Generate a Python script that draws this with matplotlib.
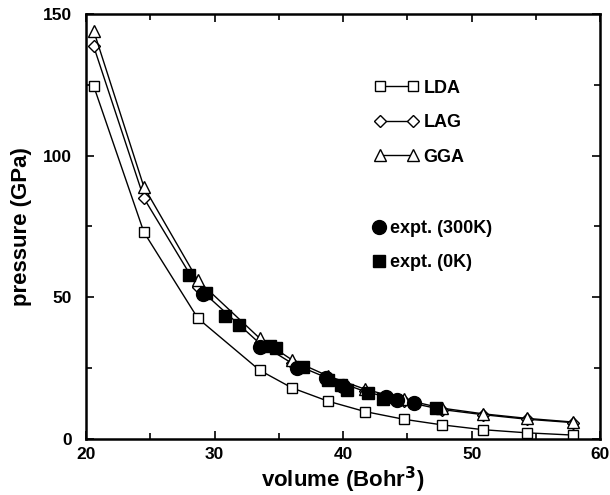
import matplotlib
matplotlib.use('Agg')
from matplotlib import pyplot as plt
from matplotlib.ticker import MultipleLocator

plt.rcParams['font.family'] = ['Liberation Sans', 'DejaVu Sans']
plt.rcParams['font.weight'] = 'bold'

# ----- data -----
vol_calc = [20.6, 24.5, 28.7, 33.5, 36.0, 38.8, 41.7, 44.7, 47.7, 50.9, 54.3, 57.9]
p_lda = [124.5, 73.0, 42.6, 24.3, 18.1, 13.4, 9.7, 7.0, 5.0, 3.3, 2.2, 1.4]
p_lag = [138.5, 85.0, 53.5, 33.8, 26.8, 21.5, 16.8, 13.3, 10.4, 8.6, 7.0, 5.8]
p_gga = [144.0, 89.0, 56.0, 35.6, 28.0, 22.3, 17.6, 14.0, 10.9, 8.9, 7.3, 6.0]

vol_300k = [29.1, 33.5, 36.4, 38.7, 40.0, 43.3, 44.2, 45.5]
p_300k = [51.0, 32.6, 25.0, 21.5, 18.7, 14.9, 13.9, 12.8]

vol_0k = [28.0, 29.3, 30.8, 31.9, 34.3, 34.8, 36.9, 38.8, 39.8, 40.3, 41.9, 43.1, 47.2]
p_0k = [57.9, 51.5, 43.4, 40.3, 32.8, 32.2, 25.5, 20.8, 19.0, 17.3, 16.2, 14.0, 10.8]

fig = plt.figure(figsize=(6.1, 4.95), dpi=100)
ax = fig.add_axes([0.141, 0.113, 0.843, 0.859])

# theory curves
l1, = ax.plot(vol_calc, p_lda, 'k-', lw=1.0, marker='s', ms=7.5, mfc='white', mec='black', mew=1.0, label='LDA')
l2, = ax.plot(vol_calc, p_lag, 'k-', lw=1.0, marker='D', ms=6.5, mfc='white', mec='black', mew=1.0, label='LAG')
l3, = ax.plot(vol_calc, p_gga, 'k-', lw=1.0, marker='^', ms=9.0, mfc='white', mec='black', mew=1.0, label='GGA')

# experiments
e1, = ax.plot(vol_300k, p_300k, 'o', color='black', ms=10, label='expt. (300K)')
e2, = ax.plot(vol_0k, p_0k, 's', color='black', ms=8.5, label='expt. (0K)')

ax.set_xlim(20, 60)
ax.set_ylim(0, 150)
ax.xaxis.set_major_locator(MultipleLocator(10))
ax.xaxis.set_minor_locator(MultipleLocator(5))
ax.yaxis.set_major_locator(MultipleLocator(50))
ax.yaxis.set_minor_locator(MultipleLocator(25))
ax.tick_params(which='both', direction='in', top=True, right=True, width=1.2)
ax.tick_params(which='major', length=6, labelsize=12.5)
ax.tick_params(which='minor', length=4)
ax.tick_params(axis='x', which='major', pad=6)
ax.tick_params(axis='y', which='major', pad=10)
for lab in ax.get_xticklabels() + ax.get_yticklabels():
    lab.set_fontweight('bold')
for s in ax.spines.values():
    s.set_linewidth(1.8)

ax.set_xlabel('volume (Bohr$^{\\mathbf{3}}$)', fontsize=16, fontweight='bold', labelpad=2)
ax.set_ylabel('pressure (GPa)', fontsize=16, fontweight='bold', labelpad=8)

leg1 = ax.legend(handles=[l1, l2, l3], loc='upper left', bbox_to_anchor=(0.5615, 0.845),
                 numpoints=2, frameon=False, borderpad=0, borderaxespad=0,
                 handlelength=2.4, handletextpad=0.3, labelspacing=0.97,
                 prop={'size': 13, 'weight': 'bold'})
ax.add_artist(leg1)
ax.legend(handles=[e1, e2], loc='upper left', bbox_to_anchor=(0.556, 0.515),
          numpoints=1, frameon=False, borderpad=0, borderaxespad=0,
          handlelength=0.8, handletextpad=0.2, labelspacing=0.95,
          prop={'size': 13, 'weight': 'bold'})

fig.savefig('out.png', dpi=100)
